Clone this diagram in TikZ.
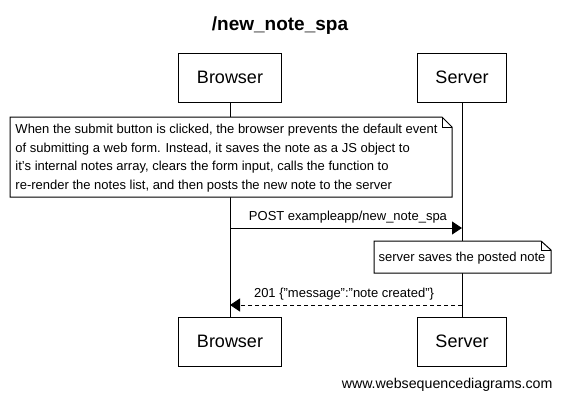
\documentclass[tikz,border=0pt]{standalone}
\usepackage{fontspec}
\setmainfont{Liberation Sans}
\usetikzlibrary{arrows.meta}
\begin{document}
\begin{tikzpicture}[x=1pt,y=-1pt,line width=1pt,
    actor/.style={draw,fill=white,inner xsep=18pt,minimum height=49pt,
      font=\fontsize{18}{20}\selectfont},
    notetext/.style={inner sep=0pt,font=\fontsize{13}{18.6}\selectfont},
    notebox/.style={draw,fill=white,line join=miter},
    msg/.style={-{Triangle[length=10pt,width=13pt]}},
    reply/.style={msg,dash pattern=on 4pt off 3pt},
    lbl/.style={font=\fontsize{13}{15}\selectfont,inner sep=0pt}]
  \useasboundingbox (0,0) rectangle (562,400);
  \node[font=\bfseries\fontsize{19}{22}\selectfont] (title) at (280,26) {/new\_note\_spa};
  \draw
    (230,77.5) node[actor] (0){Browser}
    (462,77.5) node[actor] (1){Server}
    (230,341.5) node[actor] (2){Browser}
    (462,341.5) node[actor] (3){Server};
  % lifelines
  \draw (0) to (2);
  \draw (1) to (3);
  % note over the browser
  \draw[notebox] (10,117) -- (442,117) -- (452,127) -- (452,197) -- (10,197) -- cycle;
  \draw (442,117) -- (442,127) -- (452,127);
  \node[notetext,anchor=west,align=left] (note1) at (15,158)
    {When the submit button is clicked, the browser prevents the default event\\
     of submitting a web form. Instead, it saves the note as a JS object to\\
     it's internal notes array, clears the form input, calls the function to\\
     re-render the notes list, and then posts the new note to the server};
  % note over the server
  \draw[notebox] (374,241) -- (541,241) -- (551,250) -- (551,273) -- (374,273) -- cycle;
  \draw (541,241) -- (541,250) -- (551,250);
  \node[notetext] (note2) at (462,258) {server saves the posted note};
  % messages
  \coordinate (b1) at (230,228);
  \coordinate (s1) at (462,228);
  \coordinate (b2) at (230,305);
  \coordinate (s2) at (462,305);
  \begin{scope}[line width=1pt]
    \draw[msg] (b1) to node[lbl,above=4pt,xshift=2pt] (m1){POST exampleapp/new\_note\_spa} (s1);
    \draw[reply] (s2) to node[lbl,above=4pt,xshift=-2pt] (m2){201 \{"message":"note created"\}} (b2);
  \end{scope}
  \node[lbl,anchor=east,font=\fontsize{14.2}{16}\selectfont] (site) at (553,385) {www.websequencediagrams.com};
\end{tikzpicture}
\end{document}
